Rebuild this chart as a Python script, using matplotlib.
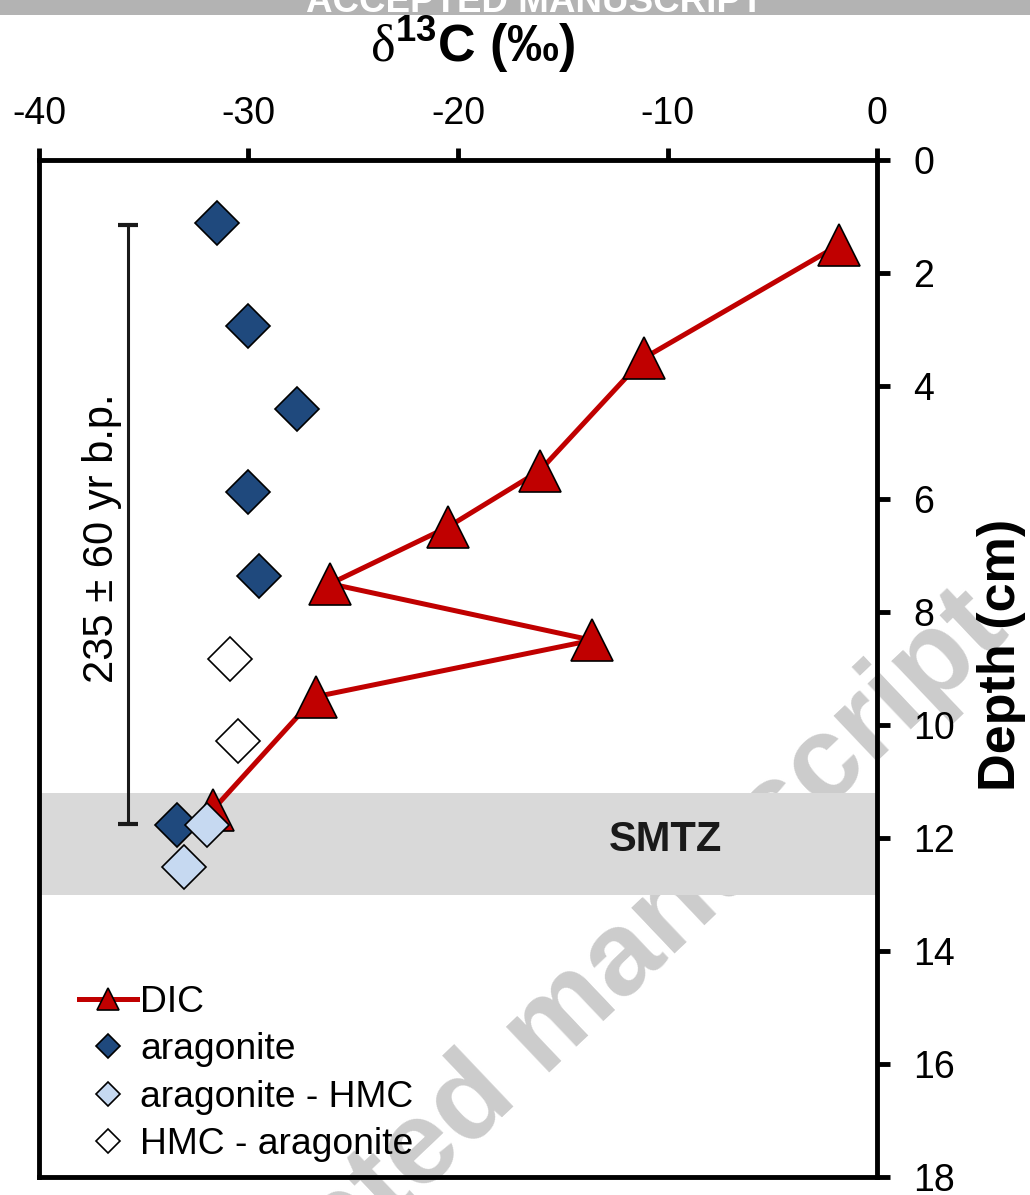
import matplotlib
matplotlib.use("Agg")
import matplotlib.pyplot as plt
from matplotlib.patches import Rectangle

plt.rcParams["font.family"] = ["Liberation Sans", "DejaVu Sans"]
plt.rcParams["mathtext.fontset"] = "custom"
plt.rcParams["mathtext.rm"] = "Liberation Serif"
plt.rcParams["mathtext.bf"] = "Liberation Sans:bold"
plt.rcParams["axes.unicode_minus"] = False

# DIC profile
dic_d13c = [-1.8, -11.1, -16.1, -20.5, -26.1, -13.6, -26.8, -31.7]
dic_depth = [1.5, 3.5, 5.5, 6.5, 7.5, 8.5, 9.5, 11.5]

# carbonate phases
arag_d13c = [-31.5, -30.0, -27.7, -30.0, -29.5, -33.4]
arag_depth = [1.12, 2.94, 4.41, 5.88, 7.36, 11.77]
arag_hmc_d13c = [-32.0, -33.1]
arag_hmc_depth = [11.77, 12.51]
hmc_arag_d13c = [-30.9, -30.5]
hmc_arag_depth = [8.83, 10.28]

# dated interval and sulphate-methane transition zone
age_x = -35.75
age_depth = [1.15, 11.75]
age_text = "235 ± 60 yr b.p."
smtz = [11.2, 13.0]

x_ticks = [-40, -30, -20, -10, 0]
y_ticks = [0, 2, 4, 6, 8, 10, 12, 14, 16, 18]

RED = "#C00000"
DARK = "#1F497D"
LIGHT = "#C6D9F1"

fig = plt.figure(figsize=(10.3, 11.95), dpi=100)
W, H = 1030, 1195
ax = fig.add_axes([39 / W, 1 - 1177 / H, (877 - 39) / W, (1177 - 160) / H])
ax.patch.set_visible(False)

# watermark, behind the axes content
fig.text(550 / W, 1 - 1030 / H, "Accepted manuscript", fontsize=86,
         fontweight="bold", color="#cccccc", rotation=43.5,
         rotation_mode="anchor", ha="center", va="center", zorder=-1)

# header bar
fig.patches.append(Rectangle((0, 1 - 15 / H), 1, 15 / H, transform=fig.transFigure,
                             facecolor="#b3b3b3", edgecolor="none", zorder=5))
fig.text(535 / W, 1 - 12 / H, "ACCEPTED MANUSCRIPT", fontsize=26.5,
         fontweight="bold", color="white", ha="center", va="baseline", zorder=6)

ax.axhspan(smtz[0], smtz[1], color="#d9d9d9", lw=0, zorder=0.5)
ax.text(-10.1, 12.03, "SMTZ", fontsize=30, fontweight="bold",
        color="#1a1a1a", ha="center", va="center")

# age bar
mid = (age_depth[0] + age_depth[1]) / 2
half = (age_depth[1] - age_depth[0]) / 2
ax.errorbar([age_x], [mid], yerr=[half], fmt="none", ecolor="#1a1a1a",
            elinewidth=2.2, capsize=7.2, capthick=3, zorder=2)
ax.text(-37.0, 6.7, age_text, fontsize=30, rotation=90,
        ha="center", va="center")

ax.plot(dic_d13c, dic_depth, color=RED, lw=3.6, marker="^", ms=30,
        mfc=RED, mec="black", mew=1.2, label="DIC", zorder=3)
ax.plot(arag_d13c, arag_depth, ls="none", marker="D", ms=22,
        mfc=DARK, mec="black", mew=1.2, label="aragonite", zorder=4)
ax.plot(arag_hmc_d13c, arag_hmc_depth, ls="none", marker="D", ms=22,
        mfc=LIGHT, mec="black", mew=1.2, label="aragonite - HMC", zorder=5)
ax.plot(hmc_arag_d13c, hmc_arag_depth, ls="none", marker="D", ms=22,
        mfc="white", mec="black", mew=1.2, label="HMC - aragonite", zorder=5)

ax.set_xlim(-40, 0)
ax.set_ylim(18, 0)
ax.set_xticks(x_ticks)
ax.set_yticks(y_ticks)
ax.xaxis.tick_top()
ax.yaxis.tick_right()
ax.tick_params(axis="x", direction="out", length=9, width=3.5, pad=11, labelsize=27)
ax.tick_params(axis="y", direction="out", length=9, width=3.5, pad=17, labelsize=27)
for sp in ax.spines.values():
    sp.set_linewidth(3.5)

ax.xaxis.set_label_position("top")
ax.set_xlabel(r"$\mathrm{\delta}^{\mathbf{13}}$C (‰)", fontsize=37.5,
              fontweight="bold", labelpad=25)
ax.xaxis.label.set_x(0.517)
ax.yaxis.set_label_position("right")
ax.set_ylabel("Depth (cm)", fontsize=37.5, fontweight="bold", labelpad=16)
ax.yaxis.label.set_y(0.513)

ax.legend(loc="lower left", bbox_to_anchor=(79 / W, 1 - 1162 / H),
          bbox_transform=fig.transFigure, frameon=False, fontsize=26.8,
          markerscale=0.55, handlelength=1.55, handletextpad=0.1,
          labelspacing=0.33, borderpad=0, borderaxespad=0)

fig.savefig("out.png", dpi=100)
